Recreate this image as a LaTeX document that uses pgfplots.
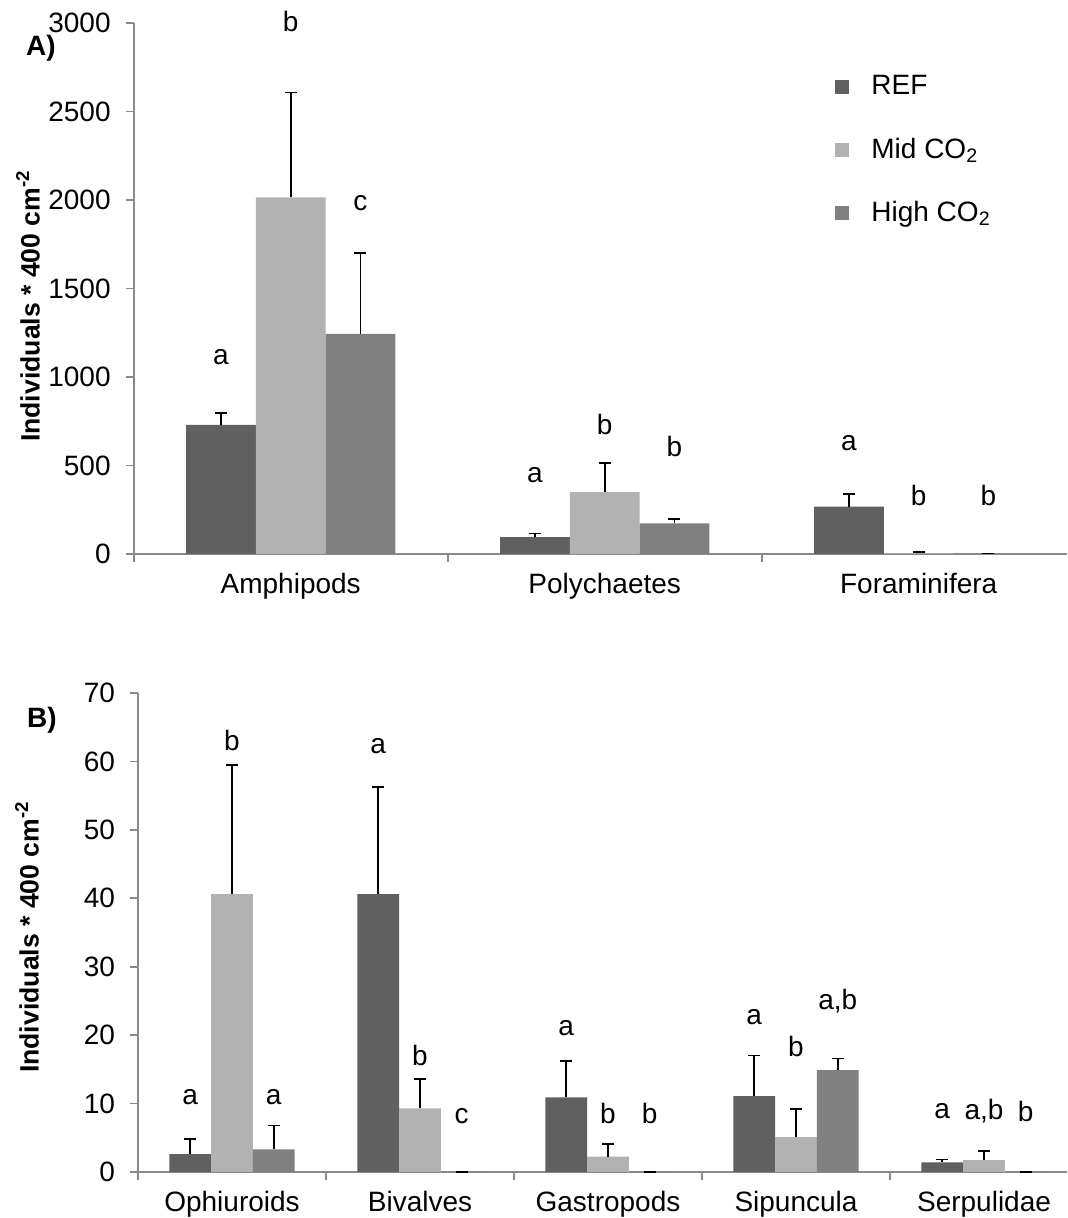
\documentclass[border=0pt]{standalone}
\usepackage{pgfplots}
\pgfplotsset{compat=1.18}
\usepackage{pgfplotstable}
\usepackage{fontspec}
\setmainfont{Liberation Sans}

\definecolor{cref}{HTML}{606060}
\definecolor{cmid}{HTML}{B2B2B2}
\definecolor{chigh}{HTML}{808080}
\definecolor{axgray}{HTML}{8A8A8A}

% panel A: x, mean, plus error
\pgfplotstableread{
x val err
0 730 68
1 95 20
2 268 70
}\refA
\pgfplotstableread{
x val err
0 2015 592
1 350 163
2 4 6
}\midA
\pgfplotstableread{
x val err
0 1243 458
1 173 26
2 1 2
}\highA

% panel B
\pgfplotstableread{
x val err
0 2.6 2.2
1 40.6 15.7
2 10.9 5.3
3 11.1 5.9
4 1.4 0.45
}\refB
\pgfplotstableread{
x val err
0 40.6 18.9
1 9.3 4.3
2 2.25 1.85
3 5.1 4.1
4 1.75 1.35
}\midB
\pgfplotstableread{
x val err
0 3.3 3.5
1 0 0
2 0 0
3 14.9 1.7
4 0 0
}\highB

\pgfplotsset{
  panel/.style={
    scale only axis,
    axis x line=bottom, axis y line=left,
    axis line style={draw=axgray, line width=0.9pt, -},
    ymin=0, clip=false,
    ybar=0pt, bar width=0.222,
    tick align=outside,
    major tick length=4pt, minor tick length=4pt,
    y tick style={draw=axgray, line width=0.9pt},
    x tick style={draw=none},
    minor x tick style={draw=axgray, line width=0.9pt},
    font=\fontsize{14}{16}\selectfont,
    tick label style={font=\fontsize{14}{16}\selectfont},
    /pgf/number format/assume math mode=true,
    /pgf/number format/1000 sep={},
    yticklabel style={xshift=-4pt},
    xticklabel style={yshift=-2pt},
  },
  eb/.style={
    error bars/.cd, y dir=plus, y explicit,
    error bar style={black, line width=0.8pt},
    error mark options={black, rotate=90, mark size=3pt, line width=0.8pt},
  },
  sq/.style={legend image code/.code={\fill[##1, draw=none] (0pt,-3.5pt) rectangle (7pt,3.5pt);}},
}

\begin{document}
\begin{tikzpicture}
\path[use as bounding box] (0,0) rectangle (533.5pt,609pt);

% ---------- A ----------
\begin{axis}[panel,
  at={(66.85pt,332pt)}, anchor=south west,
  width=466.65pt, height=265.5pt,
  xmin=-0.5, xmax=2.4723, ymax=3000,
  ytick={0,500,...,3000},
  xtick={0,1,2}, xticklabels={Amphipods,Polychaetes,Foraminifera},
  minor xtick={-0.5,0.5,1.5},
  legend style={draw=none, fill=none, at={(0.7514,0.909)}, anchor=north west,
    inner sep=0pt, row sep=16pt, font=\fontsize{14}{16}\selectfont,
    /tikz/every odd column/.style={column sep=9pt}},
  legend cell align=left,
]
\addplot[fill=cref, draw=none, bar shift=-0.222, sq, eb] table[x=x, y=val, y error=err] {\refA};
\addplot[fill=cmid, draw=none, bar shift=0, sq, eb] table[x=x, y=val, y error=err] {\midA};
\addplot[fill=chigh, draw=none, bar shift=0.222, sq, eb] table[x=x, y=val, y error=err] {\highA};
\legend{REF, Mid CO\textsubscript{2}, High CO\textsubscript{2}}
\node at (axis cs:-0.222,1110) {a};
\node at (axis cs:0,3010) {b};
\node at (axis cs:0.222,1984) {c};
\node at (axis cs:0.778,447) {a};
\node at (axis cs:1,729) {b};
\node at (axis cs:1.222,607) {b};
\node at (axis cs:1.778,629) {a};
\node at (axis cs:2,333) {b};
\node at (axis cs:2.222,333) {b};
\end{axis}

% ---------- B ----------
\begin{axis}[panel,
  at={(69pt,23pt)}, anchor=south west,
  width=464.5pt, height=239.5pt,
  xmin=-0.5, xmax=4.4415, ymax=70,
  ytick={0,10,...,70},
  xtick={0,1,2,3,4}, xticklabels={Ophiuroids,Bivalves,Gastropods,Sipuncula,Serpulidae},
  minor xtick={-0.5,0.5,1.5,2.5,3.5},
]
\addplot[fill=cref, draw=none, bar shift=-0.222, eb] table[x=x, y=val, y error=err] {\refB};
\addplot[fill=cmid, draw=none, bar shift=0, eb] table[x=x, y=val, y error=err] {\midB};
\addplot[fill=chigh, draw=none, bar shift=0.222, eb] table[x=x, y=val, y error=err] {\highB};
\node at (axis cs:-0.222,10.9) {a};
\node at (axis cs:0,63.0) {b};
\node at (axis cs:0.222,10.9) {a};
\node at (axis cs:0.778,62.3) {a};
\node at (axis cs:1,17.0) {b};
\node at (axis cs:1.222,8.2) {c};
\node at (axis cs:1.778,21.1) {a};
\node at (axis cs:2,8.5) {b};
\node at (axis cs:2.222,8.5) {b};
\node at (axis cs:2.778,22.7) {a};
\node at (axis cs:3,18.4) {b};
\node at (axis cs:3.222,24.9) {a,b};
\node at (axis cs:3.778,8.9) {a};
\node at (axis cs:4,8.9) {a,b};
\node at (axis cs:4.222,8.9) {b};
\end{axis}

% panel letters and y labels
\node[font=\bfseries\fontsize{14}{16}\selectfont] at (20.5pt,585pt) {A)};
\node[font=\bfseries\fontsize{14}{16}\selectfont] at (21pt,249pt) {B)};
\node[font=\bfseries\fontsize{13.3}{16}\selectfont, rotate=90] at (14pt,456pt) {Individuals * 400 cm\textsuperscript{-2}};
\node[font=\bfseries\fontsize{13.3}{16}\selectfont, rotate=90] at (13.5pt,140.5pt) {Individuals * 400 cm\textsuperscript{-2}};
\end{tikzpicture}
\end{document}
